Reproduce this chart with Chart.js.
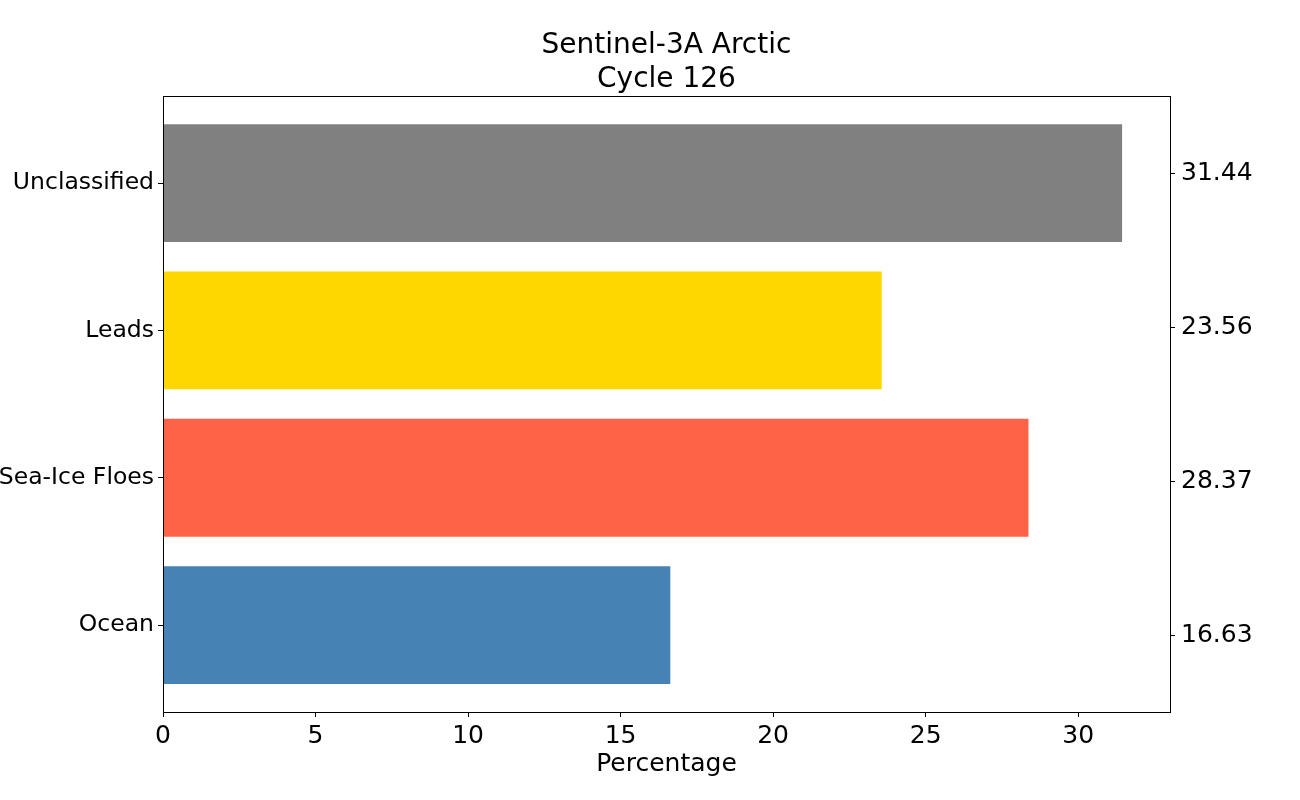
<!DOCTYPE html>
<html>
<head>
<meta charset="utf-8">
<script src="https://cdn.jsdelivr.net/npm/chart.js@4/dist/chart.umd.min.js"></script>
<style>
  html, body { margin: 0; padding: 0; background: #fff; }
  #wrap { width: 1300px; height: 800px; }
</style>
</head>
<body>
<div id="wrap"><canvas id="chart" width="1300" height="800"></canvas></div>
<script>
// data
var categories = ['Ocean', 'Sea-Ice Floes', 'Leads', 'Unclassified'];
var values = [16.63, 28.37, 23.56, 31.44];
var barColors = ['#4682B4', '#FF6347', '#FFD700', '#808080'];
// right axis labels, top to bottom
var rightLabels = ['31.44', '23.56', '28.37', '16.63'];
var xTicks = [0, 5, 10, 15, 20, 25, 30];

var points = [];
for (var i = 0; i < values.length; i++) {
  points.push({ x: values[i], y: i });
}

var font = 'DejaVu Sans';
Chart.defaults.font.family = font;
Chart.defaults.color = '#000';

// draws the box round the plot area like matplotlib spines
var frame = {
  id: 'frame',
  afterDraw: function(chart) {
    var a = chart.chartArea, c = chart.ctx;
    c.save();
    c.strokeStyle = '#000';
    c.lineWidth = 1;
    c.strokeRect(Math.round(a.left) + 0.5, Math.round(a.top) + 0.5, Math.round(a.right - a.left), Math.round(a.bottom - a.top));
    c.restore();
  }
};

var ctx = document.getElementById('chart').getContext('2d');
var chart = new Chart(ctx, {
  type: 'bar',
  data: {
    datasets: [{
      data: points,
      backgroundColor: barColors,
      borderWidth: 0,
      barPercentage: 0.8,
      categoryPercentage: 1.0,
      yAxisID: 'y'
    }]
  },
  options: {
    indexAxis: 'y',
    responsive: false,
    animation: false,
    layout: { padding: { top: 0, left: 0, right: 0, bottom: 0 } },
    plugins: {
      legend: { display: false },
      tooltip: { enabled: false },
      title: {
        display: true,
        fullSize: false,
        text: ['Sentinel-3A Arctic', 'Cycle 126'],
        font: { size: 28, weight: 'normal' },
        lineHeight: 1.15,
        padding: { top: 29, bottom: 0 },
        color: '#000'
      }
    },
    scales: {
      x: {
        type: 'linear',
        min: 0,
        max: 33.01,
        position: 'bottom',
        afterBuildTicks: function(s) { s.ticks = xTicks.map(function(v) { return { value: v }; }); },
        ticks: { font: { size: 25 }, padding: 4, maxRotation: 0 },
        grid: { drawOnChartArea: false, drawTicks: true, tickLength: 5, color: '#000' },
        border: { color: '#000' },
        title: { display: true, text: 'Percentage', font: { size: 25 }, padding: { top: 2, bottom: 21 } },
        afterFit: function(s) { s.height = 88; }
      },
      y: {
        type: 'linear',
        min: -0.59,
        max: 3.59,
        offset: false,
        position: 'left',
        afterBuildTicks: function(s) { s.ticks = categories.map(function(c, i) { return { value: i }; }); },
        ticks: {
          font: { size: 23.5 },
          padding: 4,
          callback: function(v) { return categories[v]; }
        },
        grid: { drawOnChartArea: false, drawTicks: true, tickLength: 5, color: '#000', offset: false },
        border: { color: '#000' },
        afterFit: function(s) { s.width = 163; }
      },
      y2: {
        type: 'category',
        labels: rightLabels,
        position: 'right',
        offset: true,
        ticks: { font: { size: 25 }, padding: 6 },
        grid: { drawOnChartArea: false, drawTicks: true, tickLength: 5, color: '#000', offset: false },
        border: { color: '#000' },
        afterFit: function(s) { s.width = 130; }
      }
    }
  },
  plugins: [frame]
});
</script>
</body>
</html>
